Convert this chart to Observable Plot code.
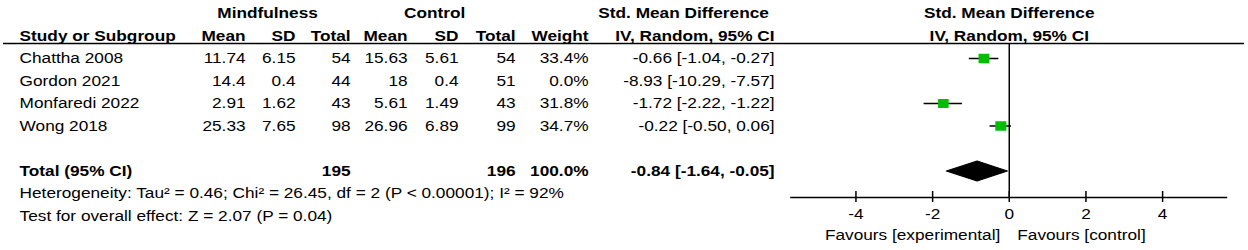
<!DOCTYPE html>
<html><head><meta charset="utf-8">
<script src="https://cdn.jsdelivr.net/npm/d3@7"></script>
<script src="https://cdn.jsdelivr.net/npm/@observablehq/plot@0.6"></script>
<style>
html,body{margin:0;padding:0;background:#fff;}
#chart{position:relative;width:1248px;height:250px;overflow:hidden;background:#fff;}
#chart svg{position:absolute;top:0;}
</style></head><body><div id="chart"></div>
<script>
// ---- data ----
const studies   = ["Chattha 2008", "Gordon 2021", "Monfaredi 2022", "Wong 2018"];
const mindMean  = [11.74, 14.4, 2.91, 25.33];
const mindSD    = [6.15, 0.4, 1.62, 7.65];
const mindN     = [54, 44, 43, 98];
const ctrlMean  = [15.63, 18, 5.61, 26.96];
const ctrlSD    = [5.61, 0.4, 1.49, 6.89];
const ctrlN     = [54, 51, 43, 99];
const weights   = [33.4, 0.0, 31.8, 34.7];
const smd       = [-0.66, -8.93, -1.72, -0.22];
const ciLow     = [-1.04, -10.29, -2.22, -0.50];
const ciHigh    = [-0.27, -7.57, -1.22, 0.06];
const totalMindN = 195;
const totalCtrlN = 196;
const totalWeight = 100.0;
const pooled    = [-0.84, -1.64, -0.05]; // estimate, low, high
const heterogeneity = "Heterogeneity: Tau² = 0.46; Chi² = 26.45, df = 2 (P < 0.00001); I² = 92%";
const overallTest   = "Test for overall effect: Z = 2.07 (P = 0.04)";
const groupHeaders  = ["Mindfulness", "Control", "Std. Mean Difference"];
const columnHeaders = ["Study or Subgroup", "Mean", "SD", "Total", "Mean", "SD", "Total", "Weight", "IV, Random, 95% CI"];
const forestHeaders = ["Std. Mean Difference", "IV, Random, 95% CI"];
const axisTicks = [-4, -2, 0, 2, 4];
const favours = ["Favours [experimental]", "Favours [control]"];

// ---- layout ----
const S = 1.15;                 // horizontal stretch of the reference picture
const W = 1248, H = 250;
const FOREST_LEFT = 785, FOREST_W = 463;
const colX = {study: 19, m1: 245, s1: 295, n1: 350, m2: 407, s2: 458, n2: 515, w: 588, ci: 774};
const groupX = [267, 434, 683];
const rowY = {h1: 0, h2: 1, line: 1.333, first: 2, total: 7, het: 8, test: 9, axis: 8.178, tick: 8.93, fav: 9.87};
const yScale = {type: "linear", domain: [0, 9], range: [13, 215.5]};
const font = "'Liberation Sans', Arial, sans-serif";
const GREEN = "#00bf00";

const fmtCI = (e, l, h) => `${e.toFixed(2)} [${l.toFixed(2)}, ${h.toFixed(2)}]`;

// ---- table cells ----
const cells = [];
groupHeaders.forEach((t, i) => cells.push({x: groupX[i], y: rowY.h1, text: t, anchor: "middle", bold: true}));
const colKeys = ["study", "m1", "s1", "n1", "m2", "s2", "n2", "w", "ci"];
columnHeaders.forEach((t, i) => cells.push({x: colX[colKeys[i]], y: rowY.h2, text: t, anchor: i === 0 ? "start" : "end", bold: true}));
studies.forEach((s, i) => {
  const y = rowY.first + i;
  const vals = [s, String(mindMean[i]), String(mindSD[i]), String(mindN[i]), String(ctrlMean[i]), String(ctrlSD[i]), String(ctrlN[i]),
    weights[i].toFixed(1) + "%", fmtCI(smd[i], ciLow[i], ciHigh[i])];
  vals.forEach((t, j) => cells.push({x: colX[colKeys[j]], y, text: t, anchor: j === 0 ? "start" : "end", bold: false}));
});
cells.push({x: colX.study, y: rowY.total, text: "Total (95% CI)", anchor: "start", bold: true});
cells.push({x: colX.n1, y: rowY.total, text: String(totalMindN), anchor: "end", bold: true});
cells.push({x: colX.n2, y: rowY.total, text: String(totalCtrlN), anchor: "end", bold: true});
cells.push({x: colX.w, y: rowY.total, text: totalWeight.toFixed(1) + "%", anchor: "end", bold: true});
cells.push({x: colX.ci, y: rowY.total, text: fmtCI(...pooled), anchor: "end", bold: true});
cells.push({x: colX.study, y: rowY.het, text: heterogeneity, anchor: "start", bold: false});
cells.push({x: colX.study, y: rowY.test, text: overallTest, anchor: "start", bold: false});

const textMarks = [];
for (const anchor of ["start", "middle", "end"]) for (const bold of [false, true]) {
  const sub = cells.filter(c => c.anchor === anchor && c.bold === bold);
  if (sub.length) textMarks.push(Plot.text(sub, {x: "x", y: "y", text: "text", textAnchor: anchor,
    fontWeight: bold ? "bold" : "normal", fontSize: 15, fill: "#000"}));
}

function stretch(svg, w, h) {
  svg.setAttribute("viewBox", `0 0 ${w} ${h}`);
  svg.setAttribute("width", w * S);
  svg.setAttribute("height", h);
  svg.setAttribute("preserveAspectRatio", "none");
  svg.style.width = (w * S) + "px";
  svg.style.height = h + "px";
  svg.style.maxWidth = "none";
  svg.style.background = "transparent";
  return svg;
}

const tableW = W / S;
const table = Plot.plot({
  width: tableW, height: H,
  marginLeft: 3 / S, marginRight: 4 / S, marginTop: 0, marginBottom: 0,
  x: {type: "linear", domain: [0, W], range: [0, tableW], axis: null},
  y: {...yScale, axis: null},
  style: {fontFamily: font, fontSize: "15px", background: "transparent", color: "#000"},
  marks: [
    Plot.ruleY([rowY.line], {y: d => d, stroke: "#000", strokeWidth: 1.6}),
    ...textMarks
  ]
});
stretch(table, tableW, H);
table.style.left = "0px";

// ---- forest panel ----
const studyData = studies.map((s, i) => ({study: s, row: rowY.first + i, est: smd[i], lo: ciLow[i], hi: ciHigh[i], w: weights[i]}));
const dh = 10 / 22.5;
const diamond = [
  {x: pooled[1], y: rowY.total}, {x: pooled[0], y: rowY.total - dh},
  {x: pooled[2], y: rowY.total}, {x: pooled[0], y: rowY.total + dh}, {x: pooled[1], y: rowY.total}
];
const forestW = FOREST_W / S;
const forest = Plot.plot({
  width: forestW, height: H,
  marginLeft: 5.2 / S, marginRight: 20.8 / S, marginTop: 0, marginBottom: 0,
  x: {type: "linear", domain: [-5.7, 5.7], axis: null},
  y: {...yScale, axis: null},
  r: {type: "sqrt", domain: [0, 100], range: [0, 9.2]},
  style: {fontFamily: font, fontSize: "15px", background: "transparent", color: "#000"},
  marks: [
    Plot.ruleY([rowY.axis], {y: d => d, stroke: "#000", strokeWidth: 1.5}),
    Plot.ruleX([0], {x: d => d, y1: rowY.line, y2: rowY.axis, stroke: "#000", strokeWidth: 1.3}),
    Plot.ruleX(axisTicks, {x: d => d, y1: rowY.axis, y2: rowY.axis, insetTop: -6, insetBottom: -5, stroke: "#000", strokeWidth: 1.3}),
    Plot.text(axisTicks, {x: d => d, y: rowY.tick, text: d => String(d), fontSize: 15, fill: "#000"}),
    Plot.text([favours[0]], {x: 0, y: rowY.fav, text: d => d, textAnchor: "end", dx: -9 / S, fontSize: 15, fill: "#000"}),
    Plot.text([favours[1]], {x: 0, y: rowY.fav, text: d => d, textAnchor: "start", dx: 8 / S, fontSize: 15, fill: "#000"}),
    Plot.text(forestHeaders, {x: 0, y: (d, i) => i === 0 ? rowY.h1 : rowY.h2, text: d => d, fontWeight: "bold", fontSize: 15, fill: "#000"}),
    Plot.ruleY(studyData, {y: "row", x1: "lo", x2: "hi", stroke: "#000", strokeWidth: 1.5, clip: true}),
    Plot.dot(studyData, {x: "est", y: "row", r: "w", symbol: "square", fill: GREEN, stroke: "none", clip: true}),
    Plot.line(diamond, {x: "x", y: "y", fill: "#000", stroke: "#000", strokeWidth: 1})
  ]
});
stretch(forest, forestW, H);
forest.style.left = FOREST_LEFT + "px";

const chart = document.getElementById("chart");
chart.appendChild(table);
chart.appendChild(forest);
</script></body></html>
